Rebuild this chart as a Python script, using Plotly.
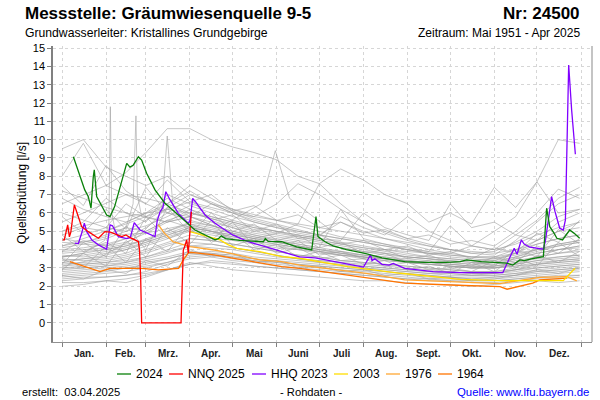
import plotly.graph_objects as go

# ---------------- data ----------------
MONTH_STARTS = [0, 31, 59, 90, 120, 151, 181, 212, 243, 273, 304, 334, 365]
MONTH_LABELS = ["Jan.", "Feb.", "Mrz.", "Apr.", "Mai", "Juni", "Juli", "Aug.", "Sept.", "Okt.", "Nov.", "Dez."]
Y_TICKS = list(range(0, 16))

GRAY_DAYS = [0, 15, 31, 45, 59, 74, 90, 105, 120, 135, 151, 166, 181, 196, 212, 227, 243, 258, 273, 288, 304, 319, 334, 349, 364]
g01 = [3.2,3.3,3.4,3.6,3.9,4.3,4.6,4.5,4.3,4.1,3.9,3.7,3.6,3.4,3.3,3.2,3.1,3.0,2.9,2.8,2.8,2.9,3.0,3.1,3.2]
g02 = [3.8,3.9,4.0,4.2,4.6,5.0,5.4,5.2,4.9,4.6,4.4,4.2,4.0,3.8,3.7,3.5,3.4,3.3,3.2,3.1,3.1,3.3,3.5,3.6,3.7]
g03 = [2.4,2.5,2.5,2.6,2.8,3.2,3.5,3.6,3.4,3.3,3.1,3.0,2.9,2.8,2.7,2.6,2.5,2.4,2.4,2.3,2.3,2.4,2.5,2.6,2.6]
g04 = [4.5,4.8,5.2,6.5,5.8,5.5,6.2,5.6,5.2,4.8,4.5,4.3,4.1,3.9,3.7,3.6,3.4,3.3,3.2,3.1,3.0,3.2,3.6,4.0,4.2]
g05 = [6.0,5.6,5.2,5.0,5.3,5.8,6.4,6.0,5.6,5.3,5.0,4.7,4.5,4.3,4.1,3.9,3.7,3.6,3.5,3.4,3.5,3.8,4.3,4.6,4.8]
g06 = [2.9,3.0,3.1,3.2,3.4,3.6,3.9,3.8,3.7,3.5,3.4,3.3,3.2,3.1,3.0,2.9,2.8,2.7,2.7,2.6,2.6,2.7,2.8,2.9,3.0]
g07 = [8.0,9.8,7.5,7.0,6.8,6.5,7.2,6.5,6.0,5.6,5.3,5.0,4.8,4.6,4.4,4.2,4.0,3.8,3.7,3.6,3.6,4.0,4.5,5.0,5.2]
g08 = [3.5,3.4,3.5,3.7,4.0,4.4,4.8,4.6,4.5,4.3,4.1,4.0,3.8,3.7,3.5,3.4,3.3,3.2,3.1,3.0,3.0,3.1,3.2,3.3,3.4]
g09 = [2.6,2.7,2.8,3.0,3.1,3.3,3.6,3.7,3.5,3.4,3.2,3.1,3.0,2.9,2.8,2.7,2.6,2.5,2.5,2.4,2.5,2.6,2.7,2.8,2.9]
g10 = [6.5,7.0,7.5,8.2,9.3,10.6,10.6,10.0,9.6,9.3,8.9,8.0,7.6,8.4,7.8,7.0,6.5,5.5,6.0,5.4,7.4,6.3,7.7,6.0,6.2]
g11 = [4.0,4.1,4.3,4.6,5.0,5.6,6.0,5.7,5.3,5.0,4.8,4.6,4.4,4.2,4.0,3.8,3.6,3.5,3.4,3.3,3.3,3.5,3.8,4.0,4.1]
g12 = [3.0,3.1,3.2,3.3,3.5,3.8,4.2,4.3,4.1,3.9,3.7,3.5,3.3,3.2,3.1,3.0,2.9,2.8,2.7,2.6,2.6,2.7,2.9,3.0,3.1]
g13 = [5.0,5.5,6.8,6.0,5.5,7.0,6.5,6.2,5.8,5.5,5.2,5.0,4.8,5.5,5.0,4.6,4.3,4.0,3.8,3.6,3.6,3.8,4.0,4.3,4.5]
g14 = [2.2,2.2,2.3,2.4,2.6,2.9,3.2,3.4,3.3,3.1,3.0,2.9,2.8,2.7,2.6,2.5,2.4,2.3,2.3,2.2,2.2,2.3,2.4,2.4,2.5]
g15 = [3.6,3.7,3.9,4.1,4.4,4.8,5.2,5.0,4.7,4.5,4.3,4.1,3.9,3.8,3.6,3.5,3.3,3.2,3.1,3.0,3.1,3.3,3.6,3.8,3.9]
g16 = [7.2,6.8,6.3,6.0,5.8,6.5,7.5,6.8,6.2,5.8,6.5,7.6,7.0,6.2,5.5,5.0,4.6,4.3,4.0,3.8,3.7,4.5,5.5,6.5,7.0]
g17 = [3.3,3.5,3.6,3.8,4.2,4.6,5.0,4.8,4.6,4.4,4.2,4.0,3.9,3.7,3.6,3.4,3.3,3.2,3.1,3.0,3.0,3.1,3.3,3.4,3.5]
g18 = [4.2,4.6,5.0,5.4,5.8,6.2,6.6,6.3,6.0,5.8,5.6,5.3,5.0,4.7,4.5,4.3,4.1,3.9,3.7,3.6,3.5,3.7,4.0,4.2,4.4]
g19 = [2.8,2.9,3.0,3.1,3.3,3.5,3.8,3.9,3.8,3.6,3.5,3.4,3.3,3.2,3.0,2.9,2.8,2.7,2.6,2.6,2.7,2.9,3.2,3.4,3.5]
g20 = [3.9,4.0,4.1,4.3,4.5,5.0,5.5,5.3,5.0,4.8,4.6,4.4,4.3,4.1,3.9,3.8,3.6,3.5,3.4,3.3,3.2,3.4,3.6,3.8,4.0]
g21 = [5.5,6.0,6.5,7.0,6.5,6.0,5.8,6.5,6.0,5.5,5.2,4.9,4.7,5.8,5.2,4.8,5.8,5.0,4.5,4.2,4.0,4.3,4.8,5.2,5.5]
g22 = [3.1,3.2,3.3,3.4,3.6,3.9,4.2,4.1,4.0,3.8,3.6,3.5,3.4,3.3,3.2,3.1,3.0,2.9,2.8,2.7,2.7,2.8,3.0,3.1,3.2]
g23 = [4.4,4.3,4.2,4.4,4.9,5.5,5.8,5.5,5.2,4.9,4.7,4.5,4.3,4.1,3.9,3.7,3.6,3.5,3.3,3.2,3.3,3.6,4.0,4.3,4.5]
g24 = [2.5,2.6,2.7,2.8,3.0,3.3,3.7,3.8,3.6,3.5,3.3,3.2,3.1,3.0,2.9,2.8,2.7,2.6,2.5,2.4,2.4,2.5,2.6,2.7,2.8]
g25 = [3.4,3.5,3.7,4.0,4.4,4.8,5.2,5.0,4.8,4.6,4.4,4.2,4.0,3.8,3.6,3.5,3.4,3.3,3.2,3.1,3.1,3.2,3.4,3.5,3.6]
g26 = [6.8,6.2,5.8,5.5,6.0,6.8,6.2,5.8,5.5,5.2,5.0,4.8,4.6,4.5,6.0,5.2,4.8,4.5,6.5,5.2,5.5,4.8,4.5,5.0,5.5]
g27 = [3.7,3.6,3.8,4.0,4.3,4.7,5.1,4.9,4.7,4.5,4.3,4.1,3.9,3.7,3.6,3.5,3.3,3.2,3.1,3.0,3.0,3.2,3.4,3.6,3.7]
g28 = [2.7,2.8,2.9,3.0,3.2,3.5,3.8,3.7,3.6,3.4,3.3,3.2,3.1,3.0,2.9,2.8,2.7,2.6,2.5,2.5,2.5,2.6,2.8,2.9,3.0]
g29 = [4.8,5.2,5.0,5.5,6.0,6.5,6.0,5.8,5.5,5.2,5.0,4.8,4.6,4.4,4.2,4.0,3.8,3.6,3.5,3.4,3.4,3.8,4.5,5.5,6.0]
g30 = [3.3,3.2,3.3,3.5,3.8,4.2,4.6,4.5,4.3,4.1,3.9,3.7,3.6,3.4,3.3,3.2,3.1,3.0,2.9,2.8,2.8,3.0,3.2,3.3,3.4]
g31 = [5.0,5.3,5.6,5.8,6.0,6.2,6.0,5.7,5.4,5.1,4.9,4.7,4.5,4.3,4.1,4.0,3.9,3.8,3.8,4.2,5.0,5.8,7.7,10.0,9.8]
g32 = [3.6,3.8,4.0,4.2,4.5,4.9,5.3,5.1,4.9,4.7,4.4,4.2,4.0,3.9,3.7,3.6,3.5,3.4,3.3,3.2,3.2,3.5,3.8,4.0,4.2]
g33 = [2.3,2.4,2.5,2.6,2.7,2.9,3.2,3.3,3.2,3.1,3.0,2.9,2.8,2.7,2.6,2.5,2.4,2.4,2.3,2.3,2.3,2.4,2.5,2.5,2.6]
g34 = [4.1,4.3,4.6,5.0,5.6,6.3,7.0,6.6,6.1,5.7,5.4,5.1,4.8,4.6,4.4,4.2,4.0,3.8,3.6,3.5,3.4,3.6,3.9,4.2,4.4]
g35 = [3.0,3.0,3.1,3.3,3.6,4.0,4.4,4.3,4.1,3.9,3.7,3.5,3.4,3.3,3.1,3.0,2.9,2.8,2.8,2.7,2.7,2.9,3.1,3.2,3.3]
g36 = [9.5,10.0,8.5,8.0,7.5,8.0,7.0,6.5,6.2,5.9,5.6,5.4,5.2,5.0,4.8,4.6,4.4,4.2,4.0,3.9,3.8,4.0,4.3,4.6,4.8]
g37 = [3.9,4.5,4.2,4.6,5.2,6.0,5.6,5.3,5.0,4.7,4.5,4.3,4.1,6.2,4.6,4.3,4.0,3.9,5.3,4.2,4.0,4.8,5.6,6.8,7.4]
g38 = [4.6,4.4,4.7,5.2,5.0,5.6,5.2,5.0,4.8,4.6,4.9,5.4,7.6,6.5,5.5,4.9,4.5,4.2,4.0,3.8,3.9,4.4,5.0,5.8,6.2]
g39 = [3.5,3.0,4.2,3.3,4.6,3.9,5.4,4.4,4.9,4.0,4.3,3.6,3.9,3.4,3.5,3.1,3.3,2.9,3.0,2.8,3.4,3.0,3.7,3.3,3.9]
g40 = [2.9,3.8,3.1,4.5,3.6,5.2,4.3,5.6,4.2,4.6,3.8,4.1,3.5,3.7,3.2,3.4,2.9,3.1,2.7,3.3,2.8,3.6,3.1,4.4,3.6]
g41 = [4.8,3.9,4.4,3.8,5.8,4.6,5.1,4.5,5.5,4.2,4.0,4.5,3.7,3.9,3.5,3.8,3.3,3.4,3.0,3.1,3.6,3.3,4.2,3.8,4.6]
g42 = [2.0,2.1,2.3,2.2,2.5,2.9,3.3,3.1,2.9,2.8,2.7,2.6,2.5,2.4,2.3,2.3,2.2,2.1,2.1,2.0,2.1,2.2,2.3,2.2,2.3]
g43 = [5.8,4.9,6.2,5.1,7.4,6.0,6.8,5.6,5.9,5.0,5.4,4.6,4.8,4.3,4.5,4.0,4.2,3.7,3.9,3.5,4.1,3.8,4.9,4.4,5.6]
g44 = [3.2,4.4,3.6,5.3,4.0,6.3,4.9,6.0,5.0,5.4,4.5,4.8,4.1,4.4,3.8,4.0,3.5,3.7,3.3,3.4,3.1,4.0,3.6,5.1,4.3]
g45 = [2.6,2.4,2.9,2.7,3.4,3.1,4.0,3.6,3.8,3.3,3.4,3.0,3.1,2.8,2.9,2.6,2.7,2.4,2.5,2.3,2.4,2.6,2.9,2.7,3.0]
g46 = [7.5,6.4,8.6,7.2,6.5,7.8,6.6,7.0,6.1,6.4,5.6,5.9,5.2,5.5,4.9,5.1,4.6,4.8,4.3,4.5,4.2,5.0,6.0,7.3,6.8]
GRAY_SERIES = [g01, g02, g03, g04, g05, g06, g07, g08, g09, g10, g11, g12, g13, g14, g15, g16, g17, g18, g19,
               g20, g21, g22, g23, g24, g25, g26, g27, g28, g29, g30, g31, g32, g33, g34, g35, g36, g37, g38,
               g39, g40, g41, g42, g43, g44, g45, g46]

# gray years with short spikes
spike1_days = [0, 15, 30, 33, 34, 35, 38, 59, 90, 120]
spike1_vals = [3.6, 3.8, 4.5, 5.5, 11.8, 6.0, 4.8, 4.9, 5.4, 4.6]
spike2_days = [0, 20, 45, 50, 52, 53, 56, 74, 90, 120]
spike2_vals = [4.2, 4.5, 5.2, 6.5, 11.3, 7.0, 5.8, 5.5, 5.8, 4.9]
spike3_days = [0, 25, 55, 70, 74, 78, 90, 110, 140, 150, 160, 190]
spike3_vals = [3.1, 3.5, 4.8, 6.0, 10.2, 6.4, 5.8, 5.2, 6.5, 9.4, 6.8, 5.0]

# highlighted years
d2024 = [8, 12.7, 16, 18.5, 20.4, 22, 22.7, 24.4, 28, 31.4, 33.8, 37, 45.5, 47.8, 50, 53.7, 56, 59.5, 65.4, 72.4,
         81.8, 93.5, 107.6, 110, 112, 115, 125, 135, 141.6, 143, 145, 154.5, 165, 175.6, 178.6, 180, 185, 190.7,
         200, 213, 225, 241, 255, 270, 280, 284.6, 295, 312.7, 317, 322, 325, 330, 338.5, 340.8, 343, 346, 348,
         352, 357, 360, 364]
v2024 = [9.07, 7.98, 7.26, 6.89, 6.26, 7.98, 8.35, 6.89, 6.35, 5.89, 5.8, 6.35, 8.71, 8.5, 8.6, 9.07, 8.89, 8.17,
         7.26, 6.53, 5.89, 5.07, 4.53, 4.6, 4.75, 4.6, 4.5, 4.45, 4.43, 4.6, 4.45, 4.43, 4.15, 3.98, 5.8, 4.71,
         4.43, 4.2, 4.0, 3.8, 3.55, 3.34, 3.3, 3.3, 3.35, 3.44, 3.35, 3.26, 3.16, 3.44, 3.4, 3.5, 3.62, 6.26,
         5.25, 4.9, 4.62, 4.53, 5.07, 4.9, 4.62]

d_nnq2025 = [0.5, 1.6, 4, 5.2, 6.2, 8.7, 10.3, 13.8, 18.5, 25.6, 30.2, 34, 42, 45, 48, 53.7, 54.5, 55.3, 56, 83.7,
             85.3, 86, 87.7, 88.8, 91]
v_nnq2025 = [4.53, 4.53, 5.35, 4.7, 4.95, 6.44, 6.07, 5.25, 4.98, 4.62, 4.98, 4.95, 4.71, 4.8, 4.65, 4.44, 4.0,
             2.5, 0, 0, 3.98, 4.1, 4.53, 3.8, 6.07]

d_hhq2023 = [9, 11.5, 13.8, 15.7, 17.4, 20.9, 25.6, 31.4, 33.8, 35.5, 39.6, 45.5, 48, 50.8, 54.9, 65.4, 67, 69, 71,
             73, 76, 81.8, 88.8, 90, 91.9, 94, 100.6, 107.6, 120, 131, 150, 167, 178, 195, 212, 217, 218, 220,
             225, 230, 233, 241, 261, 280, 308, 310, 315.7, 318, 320, 323, 325, 329, 338.5, 340, 344.3, 346.7,
             350, 352.5, 354, 355, 356.3, 358.4, 361]
v_hhq2023 = [4.35, 4.33, 4.89, 5.44, 4.98, 4.53, 4.26, 4.02, 5.35, 5.3, 4.71, 4.6, 4.65, 5.47, 5.07, 4.71, 5.6,
             6.07, 6.3, 7.16, 6.71, 5.98, 5.44, 5.6, 6.8, 6.6, 5.89, 5.44, 4.8, 4.43, 4.0, 3.6, 3.55, 3.3, 3.05,
             3.71, 3.4, 3.5, 3.2, 3.15, 3.25, 2.98, 2.8, 2.75, 2.71, 2.74, 3.71, 4.07, 3.75, 4.53, 4.3, 4.13,
             4.02, 4.5, 6.89, 6.07, 5.17, 5.07, 5.62, 9.0, 14.07, 11.6, 9.2]

d2003 = [90, 101.7, 111, 117, 123, 139, 154.5, 167, 201, 238, 280, 308, 352.5, 360.8]
v2003 = [4.98, 4.71, 4.53, 4.26, 4.07, 3.89, 3.62, 3.53, 3.07, 2.71, 2.38, 2.31, 2.31, 2.98]

d1976 = [67.8, 72, 78, 90, 107, 113, 139, 154.5, 167, 214, 241, 273, 308, 336, 355, 362]
v1976 = [5.35, 4.9, 4.43, 4.16, 3.98, 3.89, 3.44, 3.34, 3.16, 2.7, 2.35, 2.25, 2.15, 2.49, 2.53, 2.3]

d1964 = [5.6, 15, 26.7, 33.8, 45, 56, 67.7, 82, 85.3, 89, 91, 107, 130, 154.5, 167, 214, 241, 273, 308, 313, 322,
         331, 336, 355]
v1964 = [3.35, 3.1, 2.8, 2.98, 2.98, 2.98, 2.89, 2.98, 3.44, 3.84, 3.85, 3.71, 3.4, 3.07, 2.98, 2.44, 2.17, 2.07,
         1.98, 1.84, 2.0, 2.17, 2.35, 2.44]

LEGEND_NAMES = ["2024", "NNQ 2025", "HHQ 2023", "2003", "1976", "1964"]

# ---------------- figure ----------------
FONT = "Liberation Sans, Arial, sans-serif"
fig = go.Figure()

gray = dict(color="rgba(160,160,160,0.75)", width=0.8)
for s in GRAY_SERIES:
    fig.add_trace(go.Scatter(x=GRAY_DAYS, y=s, mode="lines", line=gray, showlegend=False, hoverinfo="skip"))
for dd, vv in [(spike1_days, spike1_vals), (spike2_days, spike2_vals), (spike3_days, spike3_vals)]:
    fig.add_trace(go.Scatter(x=dd, y=vv, mode="lines", line=gray, showlegend=False, hoverinfo="skip"))

COLORS = ["#0a800a", "#ff0000", "#8000ff", "#ffdd00", "#ffa733", "#ff7400"]
series = [(d2024, v2024), (d_nnq2025, v_nnq2025), (d_hhq2023, v_hhq2023), (d2003, v2003), (d1976, v1976),
          (d1964, v1964)]
for i in [5, 4, 3, 2, 1, 0]:
    dd, vv = series[i]
    fig.add_trace(go.Scatter(x=dd, y=vv, mode="lines", name=LEGEND_NAMES[i],
                             line=dict(color=COLORS[i], width=1.3), showlegend=False))

fig.update_layout(
    width=600, height=400,
    margin=dict(l=53, r=8, t=46, b=58, autoexpand=False),
    plot_bgcolor="white", paper_bgcolor="white",
    font=dict(family=FONT, size=11, color="black"),
    showlegend=False,
)
fig.update_xaxes(
    range=[-6.33, 372.7], tickvals=MONTH_STARTS, showticklabels=False,
    ticks="outside", ticklen=4, tickcolor="#808080",
    showline=True, linecolor="#909090", linewidth=1,
    showgrid=True, gridcolor="#d6d6d6", griddash="3px,3px", gridwidth=1, zeroline=False,
)
fig.update_yaxes(
    range=[-1.04, 15.11], tickvals=Y_TICKS, ticktext=[str(v) for v in Y_TICKS],
    ticks="outside", ticklen=4, tickcolor="#808080", tickfont=dict(size=11),
    showline=True, linecolor="#808080", linewidth=1.5,
    showgrid=True, gridcolor="#d6d6d6", griddash="3px,3px", gridwidth=1, zeroline=False,
)

fig.add_shape(type="line", xref="paper", yref="paper", x0=1, x1=1, y0=0, y1=1,
              line=dict(color="#c4c4c4", width=2))

for i, lab in enumerate(MONTH_LABELS):
    mid = (MONTH_STARTS[i] + MONTH_STARTS[i + 1]) / 2
    fig.add_annotation(x=mid, y=-0.0405, xref="x", yref="paper", text="<b>" + lab + "</b>",
                       showarrow=False, xanchor="center", yanchor="middle",
                       font=dict(size=10, family=FONT, color="#222"))

def px_x(p):
    return (p - 53) / 539.0

def px_y(p):
    return (342 - p) / 296.0

LEG_X = [117, 169, 252, 334, 386, 438]
for i, name in enumerate(LEGEND_NAMES):
    x0 = LEG_X[i]
    fig.add_shape(type="line", xref="paper", yref="paper", x0=px_x(x0), x1=px_x(x0 + 14),
                  y0=px_y(374), y1=px_y(374), line=dict(color=COLORS[i], width=1.3))
    fig.add_annotation(x=px_x(x0 + 17), y=px_y(374), xref="paper", yref="paper", text=name, showarrow=False,
                       xanchor="left", yanchor="middle", font=dict(size=12, family=FONT, color="black"))

ann = [
    ("<b>Messstelle: Gräumwiesenquelle 9-5</b>", 22.7, 13, "left", 17, "black"),
    ("<b>Nr: 24500</b>", 582, 13, "right", 17, "black"),
    ("Grundwasserleiter: Kristallines Grundgebirge", 22.7, 33, "left", 12.2, "black"),
    ("Zeitraum: Mai 1951 - Apr 2025", 582, 33, "right", 12, "black"),
    ("erstellt:  03.04.2025", 20, 392, "left", 11.2, "black"),
    ("- Rohdaten -", 311, 392, "center", 11.2, "black"),
    ("Quelle: www.lfu.bayern.de", 591, 392, "right", 11.4, "#0000ff"),
]
for txt, xp, yp, anchor, size, col in ann:
    fig.add_annotation(x=px_x(xp), y=px_y(yp), xref="paper", yref="paper", text=txt, showarrow=False,
                       xanchor=anchor, yanchor="middle", font=dict(size=size, family=FONT, color=col))

fig.add_annotation(x=px_x(22), y=px_y(193), xref="paper", yref="paper", text="Quellschüttung [l/s]",
                   textangle=-90, showarrow=False, xanchor="center", yanchor="middle",
                   font=dict(size=12, family=FONT, color="black"))

fig.write_html("out.html", config={"displayModeBar": False},
               post_script="document.body.style.margin='0';document.body.style.overflow='hidden';")
